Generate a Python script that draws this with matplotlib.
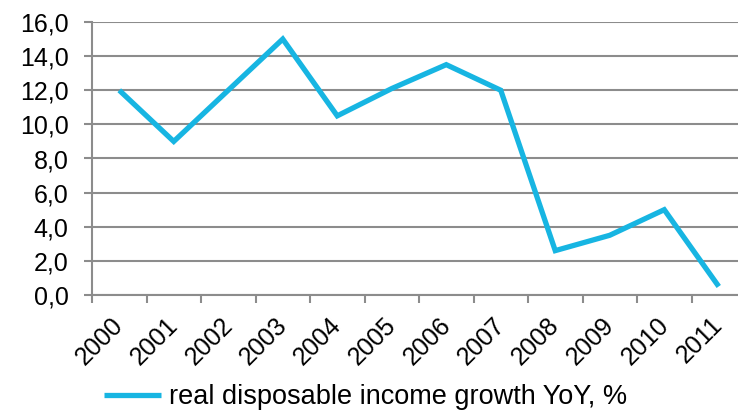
import matplotlib
matplotlib.use("Agg")
import matplotlib.pyplot as plt
from matplotlib.ticker import FixedLocator, FuncFormatter
from matplotlib.transforms import ScaledTranslation

plt.rcParams['font.family'] = ['Liberation Sans', 'DejaVu Sans']

years = ['2000', '2001', '2002', '2003', '2004', '2005',
         '2006', '2007', '2008', '2009', '2010', '2011']
income_growth = [12.0, 9.0, 12.0, 15.0, 10.5, 12.1,
                 13.5, 12.0, 2.6, 3.5, 5.0, 0.5]
y_ticks = [0, 2, 4, 6, 8, 10, 12, 14, 16]
series_label = 'real disposable income growth YoY, %'

W, H = 738, 411
fig = plt.figure(figsize=(W / 100, H / 100), dpi=100)
ax = fig.add_axes([92 / W, 1 - 295 / H, 654 / W, 273 / H])

grid_col = '#8c8c8c'
line_col = '#17b5e2'
fs = 18

x = list(range(len(years)))
line, = ax.plot(x, income_growth, color=line_col, lw=3.8,
                solid_joinstyle='miter', solid_capstyle='butt', zorder=3)

ax.set_xlim(-0.5, len(years) - 0.5)
ax.set_ylim(0, 16)
ax.set_yticks(y_ticks)
ax.yaxis.set_major_formatter(FuncFormatter(lambda v, p: f'{v:.1f}'.replace('.', ',')))
ax.grid(axis='y', color=grid_col, lw=1.5, zorder=1)

ax.set_xticks(x)
ax.set_xticklabels(years, rotation=45, ha='right', rotation_mode='anchor')
ax.xaxis.set_minor_locator(FixedLocator([i - 0.5 for i in range(len(years) + 1)]))
ax.tick_params(axis='x', which='major', length=0, pad=13, labelsize=fs)
ax.tick_params(axis='x', which='minor', length=6, width=1.5, color=grid_col)
ax.tick_params(axis='y', length=6, width=1.5, color=grid_col, pad=11, labelsize=fs)

shift = ScaledTranslation(-0.08, 0, fig.dpi_scale_trans)
for lab in ax.get_xticklabels():
    lab.set_transform(lab.get_transform() + shift)

for s in ['top', 'right']:
    ax.spines[s].set_visible(False)
for s in ['left', 'bottom']:
    ax.spines[s].set_color(grid_col)
    ax.spines[s].set_linewidth(1.5)

fig.legend([line], [series_label], loc='center', bbox_to_anchor=(366 / W, 1 - 397 / H),
           frameon=False, fontsize=19.5, handlelength=2.1, handletextpad=0.3,
           borderpad=0, borderaxespad=0)

fig.savefig('out.png', dpi=100)
